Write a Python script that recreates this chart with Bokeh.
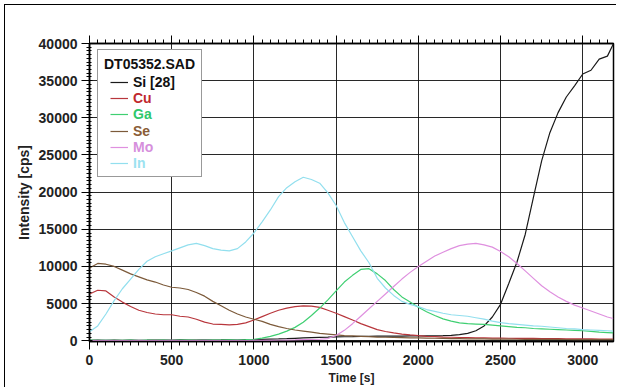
from bokeh.plotting import figure
from bokeh.models import Range1d, SingleIntervalTicker, LinearAxis, Legend, LegendItem
from bokeh.embed import file_html
from bokeh.resources import INLINE

# Depth profile DT05352.SAD: intensity (cps) against sputter time (s)
time_s = [0, 50, 100, 150, 200, 250, 300, 350, 400, 450,
          500, 550, 600, 650, 700, 750, 800, 850, 900, 950,
          1000, 1050, 1100, 1150, 1200, 1250, 1300, 1350, 1400, 1450,
          1500, 1550, 1600, 1650, 1700, 1750, 1800, 1850, 1900, 1950,
          2000, 2050, 2100, 2150, 2200, 2250, 2300, 2350, 2400, 2450,
          2500, 2550, 2600, 2650, 2700, 2750, 2800, 2850, 2900, 2950,
          3000, 3050, 3100, 3150, 3185]

si_28 = [60, 90, 70, 80, 60, 90, 70, 80, 100, 80,
         90, 110, 90, 100, 120, 100, 110, 130, 120, 140,
         160, 180, 210, 240, 280, 330, 380, 420, 460, 480,
         520, 540, 560, 590, 600, 620, 610, 640, 630, 650,
         640, 660, 650, 680, 720, 820, 1000, 1350, 2000, 3200,
         4900, 7700, 10600, 14300, 19300, 24200, 28000, 30700, 32800, 34300,
         35900, 36400, 37900, 38300, 39900]

cu = [6300, 6800, 6700, 5900, 5200, 4600, 4100, 3800, 3600, 3500,
      3500, 3300, 3200, 2900, 2500, 2250, 2200, 2150, 2200, 2400,
      2800, 3250, 3700, 4100, 4400, 4600, 4700, 4650, 4500, 4100,
      3700, 3250, 2800, 2300, 1900, 1500, 1250, 1050, 900, 780,
      680, 600, 550, 500, 470, 440, 420, 400, 380, 360,
      350, 340, 330, 320, 310, 300, 290, 280, 270, 260,
      250, 240, 230, 220, 210]

ga = [80, 60, 90, 70, 60, 80, 70, 90, 60, 80,
      70, 90, 80, 70, 90, 80, 100, 110, 120, 150,
      200, 350, 600, 900, 1300, 1800, 2500, 3400, 4400, 5500,
      6700, 7900, 8800, 9600, 9700, 9000, 8100, 6900, 5900, 5200,
      4500, 3900, 3400, 2950, 2650, 2400, 2300, 2250, 2200, 2100,
      2000, 1900, 1800, 1750, 1650, 1600, 1550, 1500, 1450, 1400,
      1350, 1250, 1150, 1100, 1050]

se = [9800, 10400, 10300, 10000, 9500, 9000, 8600, 8200, 7900, 7500,
      7200, 7100, 6900, 6500, 6000, 5300, 4700, 4100, 3600, 3200,
      2900, 2600, 2200, 1900, 1650, 1450, 1300, 1150, 1000, 900,
      800, 700, 650, 600, 550, 500, 470, 440, 420, 400,
      380, 360, 340, 320, 300, 280, 260, 250, 240, 230,
      220, 210, 200, 195, 190, 185, 180, 175, 170, 165,
      160, 155, 150, 145, 140]

mo = [30, 20, 40, 30, 20, 30, 40, 30, 20, 30,
      40, 30, 20, 30, 40, 30, 20, 30, 40, 30,
      40, 50, 60, 70, 90, 110, 140, 170, 200, 300,
      700, 1400, 2300, 3300, 4300, 5300, 6300, 7300, 8300, 9200,
      10000, 10700, 11400, 11900, 12400, 12800, 13000, 13100, 12900, 12600,
      12000, 11300, 10400, 9400, 8400, 7400, 6600, 5900, 5300, 4800,
      4400, 4000, 3600, 3200, 3000]

in_ = [1200, 2000, 3600, 5400, 7000, 8300, 9600, 10700, 11300, 11700,
       12100, 12500, 12900, 13100, 12800, 12400, 12200, 12100, 12400, 13300,
       14500, 16000, 17600, 19400, 20600, 21400, 22000, 21700, 21200, 19900,
       18200, 15900, 14000, 12100, 10500, 8400, 7100, 6100, 5300, 4900,
       4600, 4200, 3950, 3700, 3500, 3400, 3300, 3100, 2900, 2650,
       2450, 2300, 2200, 2100, 2000, 1950, 1850, 1750, 1650, 1600,
       1500, 1450, 1400, 1350, 1300]

series_names = ["Si [28]", "Cu", "Ga", "Se", "Mo", "In"]
series_values = [si_28, cu, ga, se, mo, in_]
line_colors = ["#1a1a1a", "#b8363c", "#3fcf72", "#7c5a3a", "#df90df", "#92dfee"]
label_colors = ["#111111", "#c0282d", "#2ec86a", "#8a5c36", "#d68fdc", "#9ce2f0"]

FONT = "Liberation Sans"

p = figure(width=612, height=383,
           x_range=Range1d(0, 3187), y_range=Range1d(-100, 40000),
           output_backend="svg", toolbar_location=None,
           min_border_left=84, min_border_right=4, min_border_top=38, min_border_bottom=47,
           x_axis_label="Time [s]", y_axis_label="Intensity [cps]",
           styles={"margin-left": "4px", "margin-top": "4px",
                   "border-left": "1px solid #000", "border-top": "1px solid #000"})
p.background_fill_color = "white"
p.border_fill_color = "white"
p.outline_line_color = "black"
p.outline_line_width = 1.5

x_ticker = SingleIntervalTicker(interval=500, num_minor_ticks=10)
y_ticker = SingleIntervalTicker(interval=5000, num_minor_ticks=10)
p.xaxis.ticker = x_ticker
p.yaxis.ticker = y_ticker
p.xgrid.ticker = x_ticker
p.ygrid.ticker = y_ticker

for g in (p.xgrid, p.ygrid):
    g.grid_line_color = "#111111"
    g.grid_line_width = 1
    g.grid_line_alpha = 0.9

for ax in (p.xaxis, p.yaxis):
    ax.axis_line_color = "black"
    ax.axis_line_width = 1.5
    ax.major_tick_line_color = "black"
    ax.minor_tick_line_color = "black"
    ax.major_label_text_font = FONT
    ax.major_label_text_font_size = "14px"
    ax.major_label_text_font_style = "bold"
    ax.major_label_text_color = "#222222"
    ax.axis_label_text_font = FONT
    ax.axis_label_text_font_style = "bold"
    ax.axis_label_text_color = "#222222"

p.xaxis.axis_label_text_font_size = "12px"
p.yaxis.axis_label_text_font_size = "14px"

p.xaxis.major_tick_out = 8
p.xaxis.major_tick_in = 0
p.xaxis.minor_tick_out = 4
p.xaxis.minor_tick_in = 0
p.xaxis.major_label_standoff = 5
p.xaxis.axis_label_standoff = 3

p.yaxis.major_tick_out = 8
p.yaxis.major_tick_in = 3
p.yaxis.minor_tick_out = 3
p.yaxis.minor_tick_in = 2
p.yaxis.major_label_standoff = 4
p.yaxis.axis_label_standoff = 4

# tick marks along the top edge of the frame
top_axis = LinearAxis(ticker=x_ticker, major_tick_out=8, major_tick_in=0,
                      minor_tick_out=4, minor_tick_in=0,
                      major_label_text_alpha=0, major_label_text_font_size="1px",
                      major_label_standoff=0, axis_line_width=1.5)
p.add_layout(top_axis, "above")

renderers = []
for vals, col in zip(series_values, line_colors):
    r = p.line(time_s, vals, line_color=col, line_width=1.2)
    renderers.append(r)

# legend box with title; the coloured entries are stacked on top of it
frame_legend = Legend(
    title="DT05352.SAD",
    items=[LegendItem(label=" ", renderers=[r]) for r in renderers],
    location=(8, 164),
    padding=6, spacing=0, margin=0,
    glyph_width=0, glyph_height=16, label_height=16, label_width=89,
    label_standoff=0, label_text_alpha=0,
    title_text_font=FONT, title_text_font_size="14px", title_text_font_style="bold",
    title_text_color="#111111", title_standoff=2,
    border_line_color="#333333", border_line_width=1,
    background_fill_color="white", background_fill_alpha=1,
)
p.add_layout(frame_legend)

frame_bottom_page = 341
for i, (n, r, lc) in enumerate(zip(series_names, renderers, label_colors)):
    center = 82 + 16.2 * i
    lg = Legend(
        items=[LegendItem(label=n, renderers=[r])],
        location=(21, int(round(frame_bottom_page - (center + 8)))),
        padding=0, spacing=0, margin=0,
        glyph_width=18, glyph_height=16, label_height=16, label_standoff=5,
        label_text_font=FONT, label_text_font_size="14px", label_text_font_style="bold",
        label_text_color=lc,
        border_line_alpha=0, background_fill_alpha=0,
    )
    p.add_layout(lg)

open("out.html", "w").write(file_html(p, INLINE))
